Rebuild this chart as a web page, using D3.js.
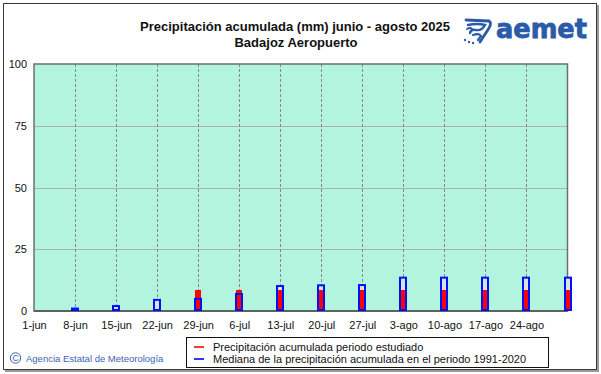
<!DOCTYPE html>
<html>
<head>
<meta charset="utf-8">
<script src="https://cdn.jsdelivr.net/npm/d3@7"></script>
<style>
  body { margin: 0; background: #fff; }
  svg { display: block; }
  text { font-family: "Liberation Sans", Arial, sans-serif; }
</style>
</head>
<body>
<div id="chart"></div>
<script>
// data
const tickLabels = ["1-jun", "8-jun", "15-jun", "22-jun", "29-jun", "6-jul", "13-jul",
                    "20-jul", "27-jul", "3-ago", "10-ago", "17-ago", "24-ago"];
const barLabels = ["8-jun", "15-jun", "22-jun", "29-jun", "6-jul", "13-jul", "20-jul",
                   "27-jul", "3-ago", "10-ago", "17-ago", "24-ago", "31-ago"];
const observed = [0, 0, 0, 8.5, 8.5, 8.5, 8.5, 8.5, 8.5, 8.5, 8.5, 8.5, 8.5];
const median = [1.0, 2.0, 4.5, 4.9, 6.9, 10.1, 10.4, 10.5, 13.5, 13.5, 13.5, 13.5, 13.5];
const yTicks = [0, 25, 50, 75, 100];
const legendLabels = ["Precipitación acumulada periodo estudiado",
                      "Mediana de la precipitación acumulada en el periodo 1991-2020"];

const months = {jun: 5, jul: 6, ago: 7};
function parseDay(s) {
    const p = s.split("-");
    return new Date(2025, months[p[1]], +p[0]);
}

const width = 601, height = 374;
const svg = d3.select("#chart").append("svg").attr("width", width).attr("height", height);

// outer frame with a little shadow
svg.append("rect").attr("x", 5).attr("y", 5).attr("width", 594).attr("height", 367).attr("fill", "#9a9a9a");
svg.append("rect").attr("x", 3.5).attr("y", 3.5).attr("width", 593).attr("height", 366)
    .attr("fill", "#fff").attr("stroke", "#3a3a3a").attr("stroke-width", 1);

const x = d3.scaleTime().domain([parseDay("1-jun"), parseDay("31-ago")]).range([34, 567.5]);
const y = d3.scaleLinear().domain([0, 100]).range([311, 64]);

// plot background
svg.append("rect")
    .attr("x", x.range()[0]).attr("y", y(100))
    .attr("width", x.range()[1] - x.range()[0]).attr("height", y(0) - y(100))
    .attr("fill", "#b3f4de");

// horizontal grid
svg.append("g").selectAll("line")
    .data(yTicks.filter(d => d > 0 && d < 100))
    .join("line")
    .attr("x1", x.range()[0]).attr("x2", x.range()[1])
    .attr("y1", d => Math.round(y(d)) + 0.5).attr("y2", d => Math.round(y(d)) + 0.5)
    .attr("stroke", "#b0b0b0").attr("stroke-width", 1);

// vertical dashed grid
const tickDates = tickLabels.map(parseDay);
svg.append("g").selectAll("line")
    .data(tickDates.slice(1))
    .join("line")
    .attr("x1", d => Math.round(x(d)) + 0.5).attr("x2", d => Math.round(x(d)) + 0.5)
    .attr("y1", y(100)).attr("y2", y(0))
    .attr("stroke", "#888888").attr("stroke-width", 1).attr("stroke-dasharray", "3,2");

// plot frame
svg.append("rect")
    .attr("x", x.range()[0]).attr("y", y(100))
    .attr("width", x.range()[1] - x.range()[0]).attr("height", y(0) - y(100))
    .attr("fill", "none").attr("stroke", "#6e6e6e").attr("stroke-width", 1.5);
svg.append("line")
    .attr("x1", x.range()[0]).attr("x2", x.range()[1])
    .attr("y1", y(0)).attr("y2", y(0))
    .attr("stroke", "#606060").attr("stroke-width", 2);

// bars
const bars = barLabels.map((d, i) => ({date: parseDay(d), obs: observed[i], med: median[i]}));
const g = svg.append("g");
g.selectAll(".medfill").data(bars).join("rect")
    .attr("x", d => Math.round(x(d.date)) - 3).attr("width", 6)
    .attr("y", d => y(d.med)).attr("height", d => y(0) - y(d.med))
    .attr("fill", "#d9e2e2");
g.selectAll(".obs").data(bars).join("rect")
    .attr("x", d => Math.round(x(d.date)) - 3).attr("width", 6)
    .attr("y", d => y(d.obs)).attr("height", d => y(0) - y(d.obs))
    .attr("fill", "#ff0000");
g.selectAll(".med").data(bars).join("rect")
    .attr("x", d => Math.round(x(d.date)) - 3).attr("width", 6)
    .attr("y", d => y(d.med)).attr("height", d => y(0) - y(d.med) - 1)
    .attr("fill", "none").attr("stroke", "#0010ff").attr("stroke-width", 2);

// axes
svg.append("g")
    .attr("transform", `translate(0,${y(0)})`)
    .call(d3.axisBottom(x).tickValues(tickDates).tickFormat((d, i) => tickLabels[i]).tickSize(0).tickPadding(10))
    .call(a => a.select(".domain").remove())
    .selectAll("text").attr("font-size", 11).attr("fill", "#111").style("font-family", "'Liberation Sans', Arial, sans-serif");

svg.append("g")
    .attr("transform", `translate(${x.range()[0]},0)`)
    .call(d3.axisLeft(y).tickValues(yTicks).tickSize(0).tickPadding(7))
    .call(a => a.select(".domain").remove())
    .selectAll("text").attr("font-size", 11).attr("fill", "#111").style("font-family", "'Liberation Sans', Arial, sans-serif");

// title
svg.append("text").attr("x", 295).attr("y", 31).attr("text-anchor", "middle")
    .attr("font-size", 13).attr("font-weight", "bold").attr("fill", "#111")
    .text("Precipitación acumulada (mm) junio - agosto 2025");
svg.append("text").attr("x", 296).attr("y", 47).attr("text-anchor", "middle")
    .attr("font-size", 13).attr("font-weight", "bold").attr("fill", "#111")
    .text("Badajoz Aeropuerto");

// aemet logo
const logo = svg.append("g").attr("fill", "none").attr("stroke", "#2a5aa8").attr("stroke-linecap", "round");
logo.append("path").attr("d", "M466,20 L489,21 Q492,23 489,28 L480,42").attr("stroke-width", 2.8);
logo.append("path").attr("d", "M468,25 Q477,23 485,25 Q482,31 476,30 Q471,29 470,33").attr("stroke-width", 2.4);
logo.append("path").attr("d", "M473,35 Q479,33 481,36 L478,40").attr("stroke-width", 2.2);
logo.append("path").attr("d", "M467,29 Q470,27 472,29").attr("stroke-width", 2);
logo.selectAll("circle").data([[465, 40], [469, 42], [473, 43]]).join("circle")
    .attr("cx", d => d[0]).attr("cy", d => d[1]).attr("r", 1.2)
    .attr("fill", "#2a5aa8").attr("stroke", "none");
svg.append("text").attr("x", 496).attr("y", 38)
    .attr("font-size", 27).attr("font-weight", "bold").attr("fill", "#2a5aa8")
    .attr("stroke", "#2a5aa8").attr("stroke-width", 0.8)
    .attr("textLength", 91).attr("lengthAdjust", "spacingAndGlyphs")
    .style("font-family", "'DejaVu Sans', sans-serif")
    .text("aemet");

// legend
const lg = svg.append("g");
lg.append("rect").attr("x", 186.5).attr("y", 337.5).attr("width", 362).attr("height", 30)
    .attr("fill", "#fff").attr("stroke", "#111").attr("stroke-width", 1);
const legendColors = ["#ff0000", "#0000ff"];
legendLabels.forEach((t, i) => {
    const yy = 347 + i * 12;
    lg.append("line").attr("x1", 194).attr("x2", 204).attr("y1", yy).attr("y2", yy)
        .attr("stroke", legendColors[i]).attr("stroke-width", 1.6);
    lg.append("text").attr("x", 213).attr("y", yy + 4).attr("font-size", 11).attr("fill", "#111").text(t);
});

// copyright
svg.append("circle").attr("cx", 15.5).attr("cy", 358).attr("r", 5.2)
    .attr("fill", "none").attr("stroke", "#3c64b4").attr("stroke-width", 1);
svg.append("text").attr("x", 15.5).attr("y", 361.3).attr("text-anchor", "middle")
    .attr("font-size", 8.5).attr("fill", "#3c64b4").text("C");
svg.append("text").attr("x", 26).attr("y", 361.5)
    .attr("font-size", 9.5).attr("fill", "#3c64b4").text("Agencia Estatal de Meteorología");
</script>
</body>
</html>
